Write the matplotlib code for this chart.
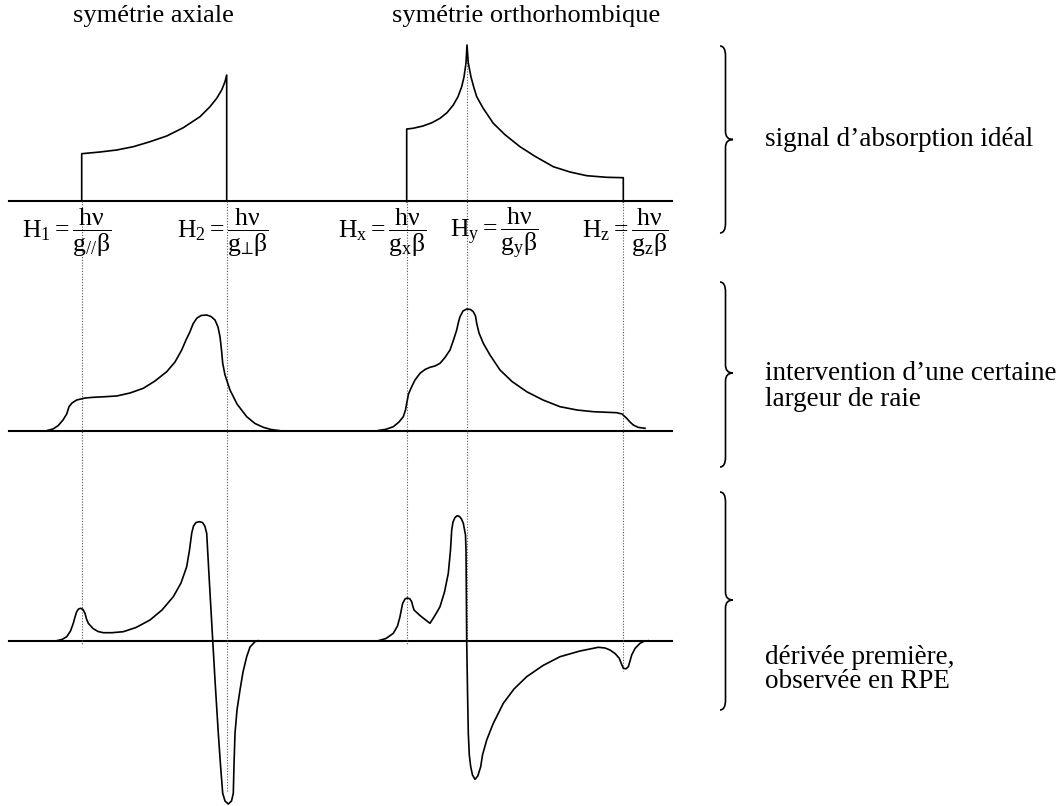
import numpy as np
import matplotlib
matplotlib.use("Agg")
import matplotlib.pyplot as plt
from matplotlib.path import Path
from matplotlib.patches import PathPatch

plt.rcParams['font.family'] = ['Liberation Serif', 'DejaVu Serif']
plt.rcParams['mathtext.fontset'] = 'custom'
plt.rcParams['mathtext.rm'] = 'Liberation Serif'
plt.rcParams['mathtext.it'] = 'Liberation Serif'
plt.rcParams['mathtext.bf'] = 'Liberation Serif:bold'

# field positions of the resonances (same units as the curves)
res_names = ["H1", "H2", "Hx", "Hy", "Hz"]
res_field = [81.7, 226.7, 406.7, 467.0, 623.3]
res_line_top = [201, 201, 201, 57, 201]
res_line_bottom = [644, 792, 644, 641, 671]

# baselines of the three panels
base_levels = [201.0, 430.7, 640.7]
base_start, base_end = 9, 672

# ideal absorption, axial
abs_ax_h = [81.7, 81.7, 100, 116.7, 133.3, 150, 166.7, 183.3, 200, 210, 216.7,
            221.7, 225, 226.7, 226.7]
abs_ax_s = [201, 153.7, 152, 150, 146.7, 141.7, 136, 127.7, 116.7, 106.7, 98.3,
            90, 81.7, 75, 201]

# ideal absorption, orthorhombic
abs_or_h = [406.7, 406.7, 413, 423, 432, 440, 447, 453.3, 458, 461.7, 464, 466, 467,
            468.3, 471, 474, 476.7, 483, 493.3, 505, 520, 535, 553.3, 570, 586.7,
            606.7, 623.3, 623.3]
abs_or_s = [201.7, 129, 128.3, 126, 122.7, 118.3, 112.7, 105, 96.7, 86.7, 77, 63, 45,
            63, 77, 88, 96.7, 108, 123.3, 134.7, 146.7, 156.3, 166.7, 172, 175.7,
            177.3, 177.7, 201.7]

# broadened absorption, axial
lw_ax_h = [46.7, 53, 58.3, 63, 66.7, 69, 72, 76.7, 85, 93.3, 105, 116.7, 130, 143.3,
           155, 166.7, 175, 181.7, 186, 190, 193, 196.7, 201, 206.7, 211, 215, 218,
           220, 221.5, 222.7, 225, 230, 237, 246.7, 255, 263.3, 271, 280]
lw_ax_s = [430.7, 429, 425.5, 420, 414, 406.7, 403, 400, 398, 397.3, 396.7, 396,
           393, 388.3, 381, 371.7, 362, 350, 340, 331.7, 324, 318.3, 315.5, 315,
           316.5, 320, 327, 336.7, 350, 363.3, 375, 390, 404, 416.7, 423.5, 427.3,
           429.5, 430.7]

# broadened absorption, orthorhombic
lw_or_h = [378.3, 386, 393.3, 399, 403.3, 405.5, 406.7, 408.5, 411.7, 415, 420, 425,
           430, 435, 440, 445, 450, 453.5, 456.7, 458.5, 460, 463, 466.7, 470.5,
           473.3, 475.5, 476.7, 479, 483.3, 490, 500, 512, 526.7, 543, 560, 577,
           593.3, 605, 616.7, 622, 626.7, 630, 633.3, 638, 645]
lw_or_s = [430.5, 429.3, 426.7, 422, 416.7, 410, 403.3, 394, 386.7, 380, 373.3,
           369.5, 367.3, 366, 363.3, 357.5, 350, 340, 330, 322, 316.7, 311, 309,
           309.5, 311.7, 316, 323.3, 333, 343.3, 355, 370, 381.5, 391.7, 400, 406.7,
           410, 411.7, 412.2, 412.7, 414, 418.3, 422, 425, 427.3, 428.3]

# first derivative, axial
der_ax_h = [56.7, 62, 66.7, 70.5, 73.3, 75, 76.7, 78.5, 80.7, 83, 85, 86.5, 88.3, 93,
            98, 103.3, 112, 123.3, 136, 150, 162, 173.3, 181, 186.7, 189.5, 191.7,
            193.5, 196, 199.3, 202.5, 204.8, 206.7, 209, 210.7, 212.7, 215, 218.3,
            220.5, 222.7, 225, 228.3, 231.5, 233.3, 234, 235, 237, 240, 243, 246.7,
            250, 255, 258]
der_ax_s = [640.7, 639.5, 636.7, 631, 623.3, 617, 611.7, 609, 608.3, 609.5, 613.3,
            619, 623.3, 628.5, 631.5, 632.7, 632.7, 631.7, 627.5, 620, 610, 596.7,
            583, 566.7, 550, 533.3, 526, 522.5, 521.7, 522.5, 526, 533.3, 575, 605,
            640, 680, 733.3, 765, 793.3, 801, 804, 801, 793.3, 765, 733.3, 710, 690,
            672, 656.7, 647, 641.7, 640.7]

# first derivative, orthorhombic
der_or_h = [378.3, 386, 393.3, 397.5, 400, 401.5, 402.7, 405, 407.3, 409.8, 411.7,
            412.5, 414, 420, 425, 430, 434, 437, 440, 444.5, 448.3, 450.5, 451.7,
            453, 455, 457.3, 459.5, 461.5, 463.3, 465.5, 466, 466.4, 466.7, 467.5,
            468.3, 469.3, 470.7, 472.5, 475, 477.8, 480.7, 482.5, 486.7, 493, 503.3,
            514, 526.7, 543, 560, 580, 598.3, 605, 610, 615, 619.3, 621.5, 623.3,
            626, 628.3, 630, 631.7, 635, 640, 644, 648.3]
der_or_s = [640.7, 638.5, 633.3, 626, 616.7, 609, 603.3, 599, 598, 598.8, 601.7,
            605, 610, 615.5, 619.5, 623.3, 617, 612, 606.7, 592, 573.3, 550, 530,
            522, 517.5, 515.7, 516.5, 519, 523.3, 535, 550, 600, 640, 690, 733.3,
            755, 766.7, 775, 779.3, 776, 766.7, 755, 740, 724, 703.3, 689, 676.7,
            665.5, 656.7, 651, 647.3, 648, 650, 653.5, 658.3, 664, 668.3, 668.8,
            666.7, 661, 655, 648.5, 643.3, 641.3, 640.7]

titles = ["symétrie axiale", "symétrie orthorhombique"]
title_x = [153, 526]

res_labels = [r"$\mathrm{H}_1 = \dfrac{h\nu}{g_{//}\beta}$",
              r"$\mathrm{H}_2 = \dfrac{h\nu}{g_{⊥}\beta}$",
              r"$\mathrm{H}_x = \dfrac{h\nu}{g_{x}\beta}$",
              r"$\mathrm{H}_y = \dfrac{h\nu}{g_{y}\beta}$",
              r"$\mathrm{H}_z = \dfrac{h\nu}{g_{z}\beta}$"]
label_x = [22, 177, 338, 450, 582]

brace_top = [46, 282, 492]
brace_tip = [139.5, 373, 600]
brace_bottom = [233, 467, 710]
side_text = [["signal d’absorption idéal"],
             ["intervention d’une certaine", "largeur de raie"],
             ["dérivée première,", "observée en RPE"]]
side_text_y = [140, 374, 657]

fig = plt.figure(figsize=(10.6, 8.06), dpi=100)
ax = fig.add_axes([0, 0, 1, 1])
ax.set_xlim(0, 1060)
ax.set_ylim(806, 0)
ax.axis('off')

for y in base_levels:
    ax.plot([base_start, base_end], [y, y], color='black', lw=1.5)

for x, y0, y1 in zip(res_field, res_line_top, res_line_bottom):
    ax.plot([x, x], [y0, y1], color='#555555', lw=0.8, ls=(0, (1, 1.5)))

curves = [(abs_ax_h, abs_ax_s), (abs_or_h, abs_or_s),
          (lw_ax_h, lw_ax_s), (lw_or_h, lw_or_s),
          (der_ax_h, der_ax_s), (der_or_h, der_or_s)]
for h, s in curves:
    ax.plot(h, s, color='black', lw=1.2, solid_joinstyle='round')

for t, x in zip(titles, title_x):
    ax.text(x, 16, t, fontsize=19, ha='center', va='center')

for lab, x in zip(res_labels, label_x):
    ax.text(x, 233, lab, fontsize=18.5, ha='left', va='center')

# curly braces
x0, x1, x2 = 720, 725.5, 733
for top, tip, bot in zip(brace_top, brace_tip, brace_bottom):
    verts = [(x0, top), (x1, top), (x1, top + 10), (x1, tip - 8),
             (x1, tip), (x2, tip), (x1, tip), (x1, tip + 8),
             (x1, bot - 10), (x1, bot), (x0, bot)]
    codes = [Path.MOVETO, Path.CURVE3, Path.CURVE3, Path.LINETO,
             Path.CURVE3, Path.CURVE3, Path.CURVE3, Path.CURVE3,
             Path.LINETO, Path.CURVE3, Path.CURVE3]
    ax.add_patch(PathPatch(Path(verts, codes), fc='none', ec='black', lw=1.2))

for lines, y in zip(side_text, side_text_y):
    for i, line in enumerate(lines):
        ax.text(765, y + i * 25, line, fontsize=19.5, ha='left', va='center')

fig.savefig("out.png", dpi=100)
